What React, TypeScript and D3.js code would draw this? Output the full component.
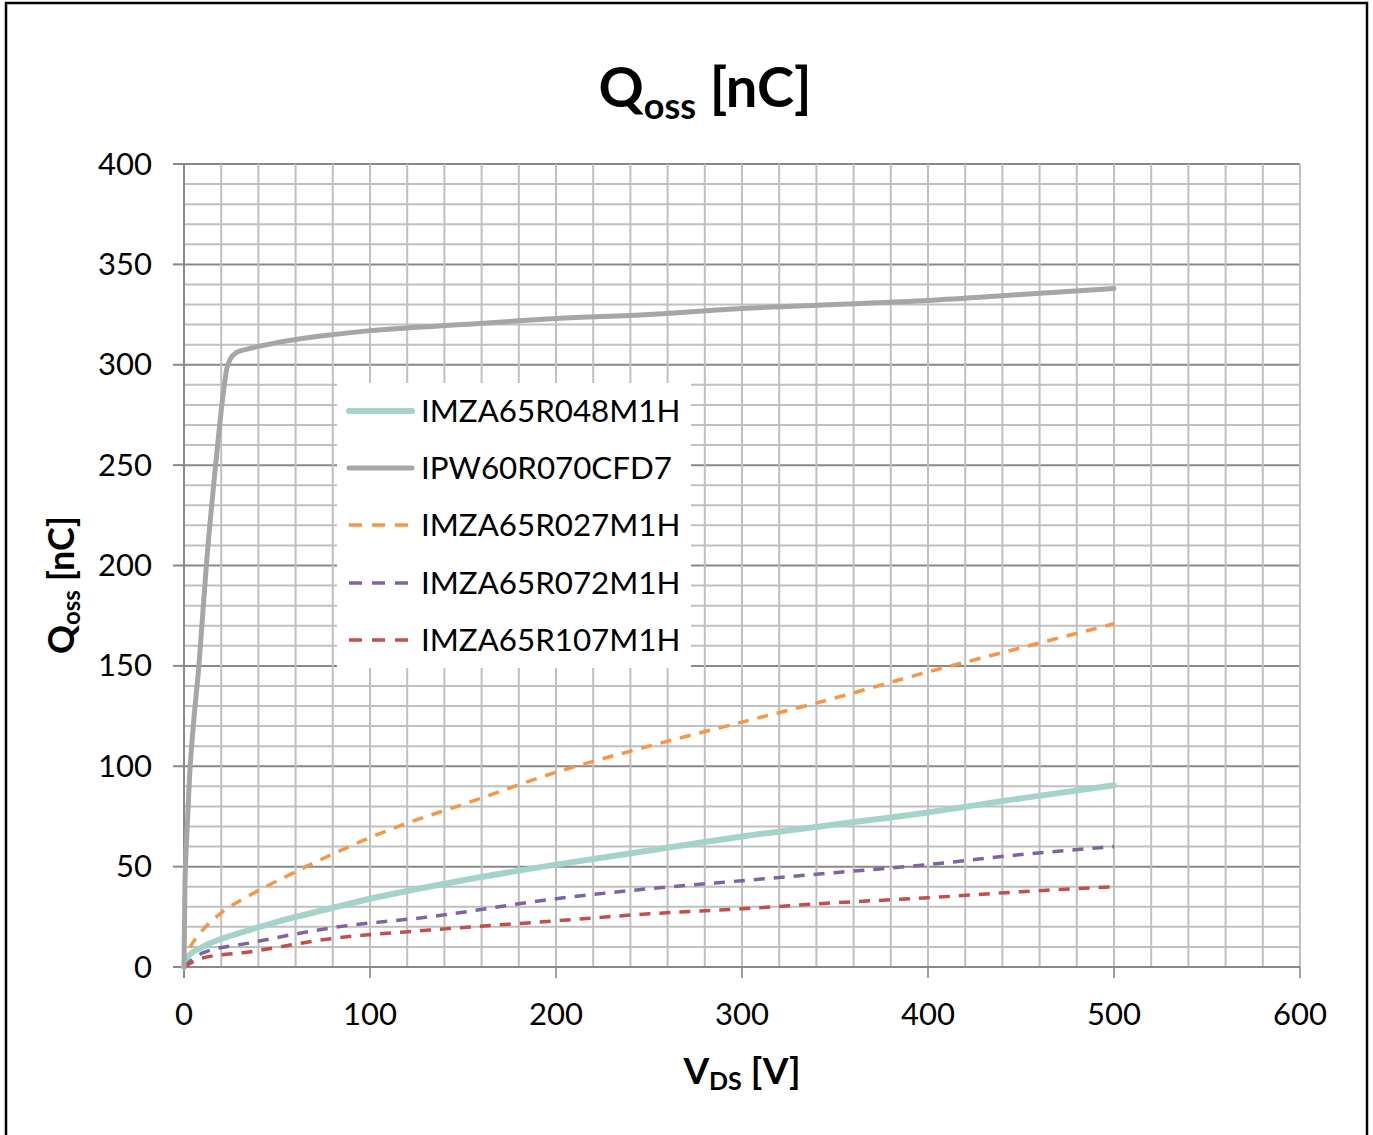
import React from "react";
import * as d3 from "d3";

const xTicks = [0, 100, 200, 300, 400, 500, 600];
const yTicks = [0, 50, 100, 150, 200, 250, 300, 350, 400];

const seriesNames = ["IMZA65R048M1H", "IPW60R070CFD7", "IMZA65R027M1H", "IMZA65R072M1H", "IMZA65R107M1H"];
const seriesColors = ["#a5d3c9", "#a6a6a6", "#f79646", "#8064a2", "#c0504d"];
const seriesWidths = [6, 5, 3.5, 3.5, 3.5];
const seriesDashed = [false, false, true, true, true];

const vds048 = [0, 2, 10, 20, 35, 50, 78, 100, 143, 200, 250, 300, 350, 400, 450, 500];
const q048 = [0, 5, 10, 14, 18.4, 22.5, 29, 34, 42, 51, 58, 65, 71, 77, 84, 90.5];

const vdsCfd7 = [0, 0.5, 1, 2, 3, 5, 8, 12, 17, 21, 23, 25, 28, 35, 50, 80, 100, 150, 200, 250, 300, 350, 400, 450, 500];
const qCfd7 = [0, 40, 55, 75, 95, 120, 150, 200, 250, 285, 298, 303, 306, 308, 311, 315, 317, 320, 323, 325, 328, 330, 332, 335, 338];

const vds027 = [0, 3, 8, 20, 33, 46, 58, 69, 83, 100, 118, 150, 200, 250, 300, 350, 400, 450, 500];
const q027 = [0, 9, 16, 27, 34.5, 41, 46.5, 51.5, 57.5, 64.5, 71, 81, 97, 110, 122, 134, 147, 159, 171];

const vds072 = [0, 10, 35.5, 78.5, 132, 200, 250, 300, 350, 400, 450, 500];
const q072 = [0, 7, 12, 19.4, 25, 34, 39, 43, 47, 51, 56, 60];

const vds107 = [0, 10, 35, 78, 132, 200, 250, 300, 350, 400, 450, 500];
const q107 = [0, 4.5, 7.5, 14, 18.4, 23, 26.5, 29, 32, 34.5, 37.5, 40];

const seriesX = [vds048, vdsCfd7, vds027, vds072, vds107];
const seriesY = [q048, qCfd7, q027, q072, q107];

const FONT = "Lato, 'Open Sans', sans-serif";

export default function App() {
  const W = 1373, H = 1135;
  const x = d3.scaleLinear().domain([0, 600]).range([184, 1300]);
  const y = d3.scaleLinear().domain([0, 400]).range([967, 164]);

  const minorX = d3.range(0, 601, 20);
  const minorY = d3.range(0, 401, 10);

  const line = d3
    .line<[number, number]>()
    .x((d) => x(d[0]))
    .y((d) => y(d[1]))
    .curve(d3.curveMonotoneX);

  const order = [2, 0, 3, 4, 1];

  const legendRows = [411, 468, 525, 583, 640];

  return (
    <svg width={W} height={H} style={{ position: "absolute", left: 0, top: 0, background: "#fff" }}>
      <rect x={0} y={0} width={W} height={H} fill="#fff" />
      <rect x={6} y={3} width={1361} height={1150} fill="none" stroke="#000" strokeWidth={2.5} />

      {/* grid */}
      {minorY.map((v) => (
        <line key={"hy" + v} x1={x(0)} x2={x(600)} y1={y(v)} y2={y(v)}
          stroke={v % 50 === 0 ? "#898989" : "#c0c0c0"} strokeWidth={2} />
      ))}
      {minorX.map((v) => (
        <line key={"vx" + v} x1={x(v)} x2={x(v)} y1={y(400)} y2={y(0)}
          stroke={v === 0 ? "#898989" : "#c0c0c0"} strokeWidth={2} />
      ))}
      {/* axis ticks */}
      {yTicks.map((v) => (
        <line key={"ty" + v} x1={x(0) - 11} x2={x(0)} y1={y(v)} y2={y(v)} stroke="#898989" strokeWidth={2} />
      ))}
      {xTicks.map((v) => (
        <line key={"tx" + v} x1={x(v)} x2={x(v)} y1={y(0)} y2={y(0) + 11} stroke={v === 0 ? "#898989" : "#a0a0a0"} strokeWidth={2} />
      ))}
      <line x1={x(0)} x2={x(600)} y1={y(0)} y2={y(0)} stroke="#898989" strokeWidth={2} />
      <line x1={x(0)} x2={x(0)} y1={y(400)} y2={y(0) + 11} stroke="#898989" strokeWidth={2} />

      {/* tick labels */}
      {yTicks.map((v) => (
        <text key={"ly" + v} x={152} y={y(v) + 10.5} textAnchor="end" fontFamily={FONT} fontSize={31} fill="#000">
          {v}
        </text>
      ))}
      {xTicks.map((v) => (
        <text key={"lx" + v} x={x(v)} y={1025} textAnchor="middle" fontFamily={FONT} fontSize={31} fill="#000">
          {v}
        </text>
      ))}

      {/* series */}
      {order.map((i) => {
        const pts = seriesX[i].map((v, k) => [v, seriesY[i][k]] as [number, number]);
        return (
          <path key={"s" + i} d={line(pts) || ""} fill="none" stroke={seriesColors[i]}
            strokeWidth={seriesWidths[i]} strokeDasharray={seriesDashed[i] ? "11 9" : undefined}
            strokeLinecap={seriesDashed[i] ? "butt" : "round"} strokeLinejoin="round" />
        );
      })}

      {/* legend */}
      <rect x={337} y={383} width={354} height={285} fill="#fff" />
      {seriesNames.map((n, i) => (
        <g key={"lg" + i}>
          <line x1={349} x2={412} y1={legendRows[i]} y2={legendRows[i]} stroke={seriesColors[i]}
            strokeWidth={seriesDashed[i] ? 3.5 : seriesWidths[i]}
            strokeDasharray={seriesDashed[i] ? "13 10" : undefined}
            strokeLinecap={seriesDashed[i] ? "butt" : "round"} />
          <text x={421} y={legendRows[i] + 11} fontFamily={FONT} fontSize={31.3} fill="#000">{n}</text>
        </g>
      ))}

      {/* title */}
      <text x={705} y={107} textAnchor="middle" fontFamily={FONT} fontWeight="bold" fontSize={56} fill="#000">
        Q<tspan fontSize={36} dy={12}>oss</tspan><tspan dy={-12}> [nC]</tspan>
      </text>

      {/* x label */}
      <text x={742} y={1084} textAnchor="middle" fontFamily={FONT} fontWeight="bold" fontSize={37} fill="#000">
        V<tspan fontSize={25} dy={6}>DS</tspan><tspan dy={-6}> [V]</tspan>
      </text>

      {/* y label */}
      <text transform="translate(74,585) rotate(-90)" textAnchor="middle" fontFamily={FONT} fontWeight="bold" fontSize={36} fill="#000">
        Q<tspan fontSize={24} dy={6}>oss</tspan><tspan dy={-6}> [nC]</tspan>
      </text>
    </svg>
  );
}
